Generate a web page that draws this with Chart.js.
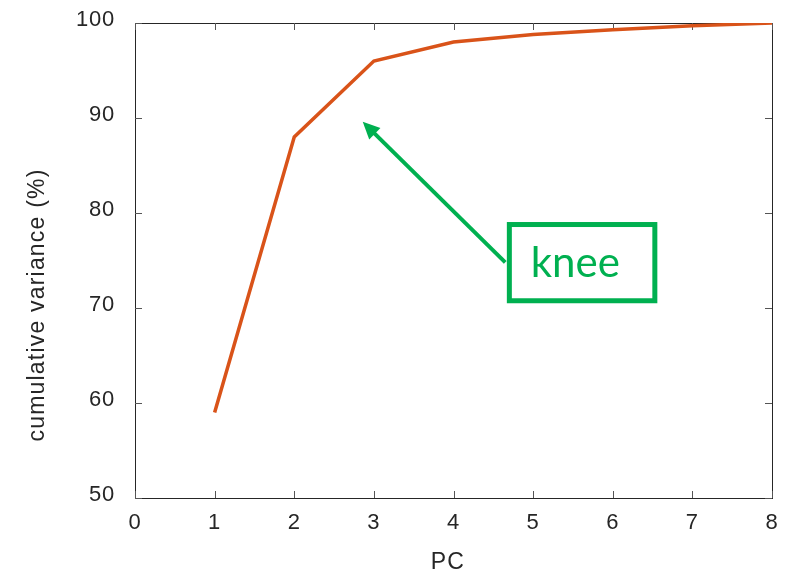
<!DOCTYPE html>
<html><head><meta charset="utf-8">
<script src="https://cdn.jsdelivr.net/npm/chart.js@4.4.1/dist/chart.umd.min.js"></script>
<style>html,body{margin:0;padding:0;background:#fff}#wrap{width:797px;height:576px}</style>
</head><body><div id="wrap"><canvas id="c" width="797" height="576"></canvas></div>
<script>
// ---- data ----
const pcs = [1, 2, 3, 4, 5, 6, 7, 8];
const cumVariance = [59, 88, 96, 98, 98.8, 99.3, 99.7, 100];
const xTicks = [0, 1, 2, 3, 4, 5, 6, 7, 8];
const yTicks = [50, 60, 70, 80, 90, 100];
const xTitle = 'PC';
const yTitle = 'cumulative variance (%)';
// annotation (data coordinates)
const annoText = 'knee';
const arrowFrom = [4.65, 74.8];
const arrowTo = [2.86, 89.6];
const boxXRange = [4.67, 6.56];
const boxYRange = [70.5, 79.05];
const annoTextPos = [5.53, 73.3];

const FONT = '"Liberation Sans", Arial, sans-serif';
const TXT = '#262626';
const GREEN = '#00B050';

const framePlugin = {
  id: 'frame',
  beforeDraw(chart) {
    chart.ctx.letterSpacing = '0.8px';
  },
  beforeDatasetsDraw(chart) {
    const {ctx, chartArea: a, scales: {x, y}} = chart;
    ctx.save();
    ctx.strokeStyle = '#262626';
    ctx.lineWidth = 1;
    ctx.strokeRect(Math.round(a.left) + 0.5, Math.round(a.top) + 0.5, Math.round(a.right - a.left), Math.round(a.bottom - a.top));
    ctx.strokeStyle = '#555';
    ctx.beginPath();
    const tl = 7;
    xTicks.forEach(v => {
      const px = Math.round(x.getPixelForValue(v)) + 0.5;
      ctx.moveTo(px, a.bottom); ctx.lineTo(px, a.bottom - tl);
      ctx.moveTo(px, a.top); ctx.lineTo(px, a.top + tl);
    });
    yTicks.forEach(v => {
      const py = Math.round(y.getPixelForValue(v)) + 0.5;
      ctx.moveTo(a.left, py); ctx.lineTo(a.left + tl, py);
      ctx.moveTo(a.right, py); ctx.lineTo(a.right - tl, py);
    });
    ctx.stroke();
    ctx.restore();
  },
  afterDraw(chart) {
    const {ctx, scales: {x, y}} = chart;
    ctx.save();
    // axis titles
    ctx.fillStyle = TXT;
    ctx.font = '23px ' + FONT;
    ctx.letterSpacing = '1.2px';
    ctx.textAlign = 'center';
    ctx.textBaseline = 'middle';
    ctx.fillText(xTitle, 448, 563);
    ctx.save();
    ctx.translate(38, 305);
    ctx.rotate(-Math.PI / 2);
    ctx.fillText(yTitle, 0, 0);
    ctx.restore();
    ctx.letterSpacing = '0px';
    // annotation
    const fx = x.getPixelForValue(arrowFrom[0]), fy = y.getPixelForValue(arrowFrom[1]);
    const tx = x.getPixelForValue(arrowTo[0]), ty = y.getPixelForValue(arrowTo[1]);
    const ang = Math.atan2(ty - fy, tx - fx);
    const head = 17, hw = 8;
    const bx = tx - head * Math.cos(ang), by = ty - head * Math.sin(ang);
    ctx.strokeStyle = GREEN; ctx.fillStyle = GREEN;
    ctx.lineWidth = 4;
    ctx.beginPath(); ctx.moveTo(fx, fy); ctx.lineTo(bx + 2 * Math.cos(ang), by + 2 * Math.sin(ang)); ctx.stroke();
    ctx.beginPath();
    ctx.moveTo(tx, ty);
    ctx.lineTo(bx + hw * Math.sin(ang), by - hw * Math.cos(ang));
    ctx.lineTo(bx - hw * Math.sin(ang), by + hw * Math.cos(ang));
    ctx.closePath(); ctx.fill();
    const x0 = x.getPixelForValue(boxXRange[0]), x1 = x.getPixelForValue(boxXRange[1]);
    const y0 = y.getPixelForValue(boxYRange[1]), y1 = y.getPixelForValue(boxYRange[0]);
    ctx.lineWidth = 5;
    ctx.strokeRect(x0 + 2.5, y0 + 2.5, x1 - x0 - 5, y1 - y0 - 5);
    ctx.font = '42px Lato, "Open Sans", sans-serif';
    ctx.textAlign = 'center';
    ctx.textBaseline = 'alphabetic';
    ctx.fillText(annoText, x.getPixelForValue(annoTextPos[0]), y.getPixelForValue(annoTextPos[1]));
    ctx.restore();
  }
};

new Chart(document.getElementById('c'), {
  type: 'line',
  data: {
    datasets: [{
      data: pcs.map((p, i) => ({x: p, y: cumVariance[i]})),
      borderColor: '#D95319',
      borderWidth: 3.5,
      pointRadius: 0,
      tension: 0,
      fill: false
    }]
  },
  options: {
    responsive: false,
    animation: false,
    devicePixelRatio: 1,
    layout: {padding: {top: 23, right: 25, left: 0, bottom: 0}},
    plugins: {legend: {display: false}, tooltip: {enabled: false}},
    scales: {
      x: {
        type: 'linear', min: 0, max: 8,
        grid: {display: false, drawTicks: false},
        border: {display: false},
        afterBuildTicks: s => { s.ticks = xTicks.map(v => ({value: v})); },
        ticks: {padding: 12, color: TXT, font: {family: FONT, size: 22}, maxRotation: 0},
        afterFit: s => { s.height = 78; s.paddingLeft = 0; s.paddingRight = 0; }
      },
      y: {
        type: 'linear', min: 50, max: 100,
        grid: {display: false, drawTicks: false},
        border: {display: false},
        afterBuildTicks: s => { s.ticks = yTicks.map(v => ({value: v})); },
        ticks: {padding: 20, labelOffset: -3, color: TXT, font: {family: FONT, size: 22}},
        afterFit: s => { s.width = 135; s.paddingTop = 0; s.paddingBottom = 0; }
      }
    }
  },
  plugins: [framePlugin]
});
</script>
</body></html>
